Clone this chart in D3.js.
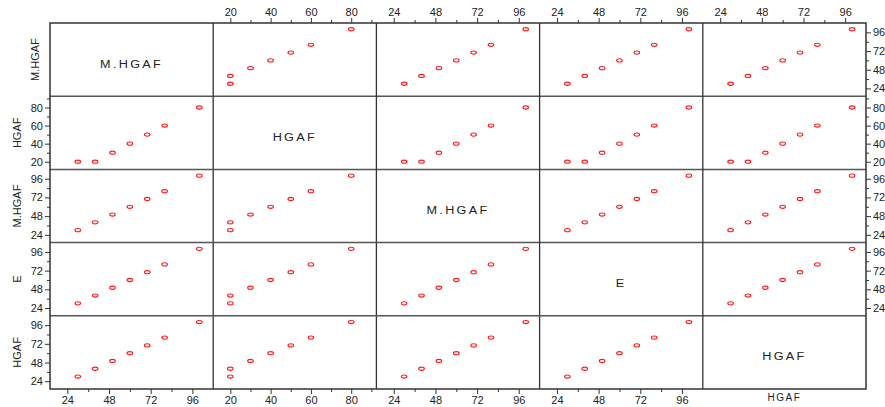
<!DOCTYPE html>
<html>
<head>
<meta charset="utf-8">
<script src="https://cdn.jsdelivr.net/npm/d3@7"></script>
<style>
  body { margin: 0; background: #fff; }
  svg text { font-family: "Liberation Sans", Arial, sans-serif; fill: #222; }
</style>
</head>
<body>
<script>
// variables of the matrix (diagonal labels)
const varNames = ["M.HGAF", "HGAF", "M.HGAF", "E", "HGAF"];
// values of each variable, same observation order
const mhgaf = [30, 40, 50, 60, 70, 80, 100];
const hgaf = [20, 20, 30, 40, 50, 60, 80];
const mhgaf2 = [30, 40, 50, 60, 70, 80, 100];
const eVals = [30, 40, 50, 60, 70, 80, 100];
const hgaf2 = [30, 40, 50, 60, 70, 80, 100];
const allVals = [mhgaf, hgaf, mhgaf2, eVals, hgaf2];
// axis ranges + tick labels
const domains = [[14, 108], [11.5, 92.5], [14, 108], [14, 108], [14, 108]];
const majorTicks = [[24, 48, 72, 96], [20, 40, 60, 80], [24, 48, 72, 96], [24, 48, 72, 96], [24, 48, 72, 96]];
const minorTicks = [[36, 60, 84], [30, 50, 70, 90], [36, 60, 84], [36, 60, 84], [36, 60, 84]];

const W = 885, H = 407;
const mLeft = 50, mRight = 866, mTop = 23, mBottom = 389;
const n = varNames.length;
const cw = (mRight - mLeft) / n, ch = (mBottom - mTop) / n;

const svg = d3.select("body").append("svg")
  .attr("width", W).attr("height", H);

function xs(j) {
  return d3.scaleLinear().domain(domains[j]).range([mLeft + j * cw, mLeft + (j + 1) * cw]);
}
function ys(i) {
  return d3.scaleLinear().domain(domains[i]).range([mTop + (i + 1) * ch, mTop + i * ch]);
}

// points
for (let i = 0; i < n; i++) {
  for (let j = 0; j < n; j++) {
    if (i == j) {
      const tx = mLeft + j * cw + cw / 2, ty = mTop + i * ch + ch / 2 + 8;
      svg.append("text")
        .attr("transform", `translate(${tx},${ty}) scale(1.15,1)`)
        .attr("text-anchor", "middle")
        .style("font-size", "11px")
        .style("letter-spacing", "2px")
        .text(varNames[i]);
      continue;
    }
    const x = xs(j), y = ys(i);
    const pts = allVals[j].map((v, k) => [v, allVals[i][k]]);
    svg.append("g").selectAll("ellipse")
      .data(pts).enter().append("ellipse")
      .attr("cx", d => x(d[0]))
      .attr("cy", d => y(d[1]))
      .attr("rx", 2.8).attr("ry", 1.6)
      .attr("fill", "none")
      .attr("stroke", "#ff1a1a")
      .attr("stroke-width", 1.1);
  }
}

// grid lines
for (let k = 1; k < n; k++) {
  svg.append("line")
    .attr("x1", mLeft).attr("x2", mRight)
    .attr("y1", mTop + k * ch).attr("y2", mTop + k * ch)
    .attr("stroke", "#555").attr("stroke-width", 1.5);
  svg.append("line")
    .attr("x1", mLeft + k * cw).attr("x2", mLeft + k * cw)
    .attr("y1", mTop).attr("y2", mBottom)
    .attr("stroke", "#333").attr("stroke-width", 1.3);
}
svg.append("rect")
  .attr("x", mLeft).attr("y", mTop)
  .attr("width", mRight - mLeft).attr("height", mBottom - mTop)
  .attr("fill", "none").attr("stroke", "#333").attr("stroke-width", 1.5);

function styleAxis(g) {
  g.select(".domain").remove();
  g.selectAll("line").attr("stroke", "#333");
  g.selectAll("text").style("font-size", "11px").attr("fill", "#1a1a1a");
}

function drawAxis(maker, scale, idx, transform) {
  const g = svg.append("g").attr("transform", transform)
    .call(maker(scale).tickValues(majorTicks[idx]).tickSize(5).tickPadding(2).tickFormat(d3.format("d")));
  styleAxis(g);
  const m = svg.append("g").attr("transform", transform)
    .call(maker(scale).tickValues(minorTicks[idx]).tickSize(3).tickFormat(""));
  styleAxis(m);
}

// top axes (columns 2..5)
for (let j = 1; j < n; j++) drawAxis(d3.axisTop, xs(j), j, `translate(0,${mTop})`);
// bottom axes (columns 1..4)
for (let j = 0; j < n - 1; j++) drawAxis(d3.axisBottom, xs(j), j, `translate(0,${mBottom})`);
// left axes (rows 2..5)
for (let i = 1; i < n; i++) drawAxis(d3.axisLeft, ys(i), i, `translate(${mLeft},0)`);
// right axes (rows 1..4)
for (let i = 0; i < n - 1; i++) drawAxis(d3.axisRight, ys(i), i, `translate(${mRight},0)`);

// rotated row titles on the left
for (let i = 0; i < n; i++) {
  const cx = i == 0 ? 35 : 17;
  const cy = mTop + i * ch + ch / 2;
  svg.append("text")
    .attr("transform", `translate(${cx + 4},${cy}) rotate(-90)`)
    .attr("text-anchor", "middle")
    .style("font-size", "11px")
    .text(varNames[i]);
}

// column title under last column
svg.append("text")
  .attr("x", mLeft + (n - 1) * cw + cw / 2)
  .attr("y", mBottom + 12)
  .attr("text-anchor", "middle")
  .style("font-size", "10px")
  .style("letter-spacing", "1.5px")
  .text(varNames[n - 1]);
</script>
</body>
</html>
